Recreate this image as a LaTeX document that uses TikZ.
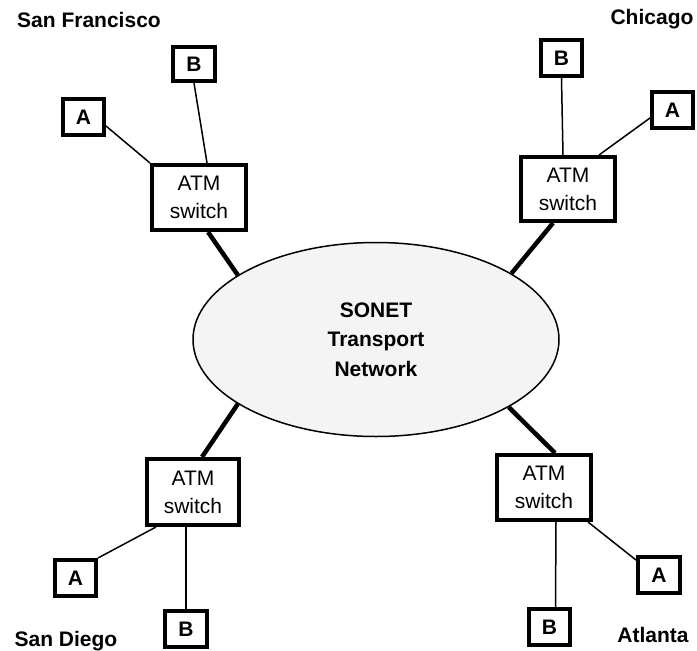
\documentclass[tikz,border=0pt]{standalone}
\usepackage{fontspec}
\setmainfont{Liberation Sans}
\usetikzlibrary{shapes.geometric,backgrounds}
\definecolor{cloudfill}{HTML}{F4F4F4}
\tikzset{
  site/.style={font=\fontsize{21}{26}\selectfont\bfseries, inner sep=0pt},
  endbox/.style={draw, line width=4pt, fill=white, inner sep=0pt,
    minimum width=41pt, minimum height=36pt,
    font=\fontsize{21}{26}\selectfont\bfseries},
  switchbox/.style={draw, line width=4pt, fill=white, inner sep=0pt,
    minimum width=94pt, minimum height=65pt, align=center,
    font=\fontsize{21}{28}\selectfont},
  access/.style={line width=1.5pt},
  trunk/.style={line width=4.5pt},
}
\begin{document}
\begin{tikzpicture}[x=1pt, y=-1pt]
\useasboundingbox (0,0) rectangle (697,651);

% SONET core network
\node[ellipse, draw, line width=1.5pt, fill=cloudfill, inner sep=0pt,
      minimum width=366pt, minimum height=194pt, align=center,
      font=\fontsize{21}{29.5}\selectfont\bfseries]
  (net) at (376,339.5) {SONET\\Transport\\Network};

% San Francisco
\node[site] (sfLabel) at (89,20) {San Francisco};
\node[switchbox] (sfS) at (199,197.5) {ATM\\switch};
\node[endbox] (sfA) at (83.5,117) {A};
\node[endbox, minimum width=42pt, minimum height=34pt] (sfB) at (194,64) {B};

% Chicago
\node[site] (chLabel) at (652,19) {Chicago};
\node[switchbox, minimum height=64pt] (chS) at (568,189) {ATM\\switch};
\node[endbox] (chB) at (561.5,58) {B};
\node[endbox] (chA) at (672.5,110) {A};

% San Diego
\node[site] (sdLabel) at (66,641) {San Diego};
\node[switchbox, minimum width=92pt, minimum height=66pt] (sdS) at (193,492) {ATM\\switch};
\node[endbox] (sdA) at (75.5,578) {A};
\node[endbox, minimum width=42pt] (sdB) at (186,629) {B};

% Atlanta
\node[site] (atLabel) at (653,635) {Atlanta};
\node[switchbox] (atS) at (544,487.5) {ATM\\switch};
\node[endbox, minimum width=42pt] (atA) at (659,575) {A};
\node[endbox] (atB) at (549.5,627) {B};

\begin{scope}[on background layer]
  % trunks from each switch into the SONET network
  \draw[trunk] ([xshift=9pt]sfS.south) -- (net.155);
  \draw[trunk] ([xshift=-15pt]chS.south) -- (net.26);
  \draw[trunk] ([xshift=9pt]sdS.north) -- (net.-155);
  \draw[trunk] ([xshift=11pt]atS.north) -- (net.-27);

  % access links to the end systems
  \draw[access] ([yshift=-9pt]sfA.east) -- (sfS.north west);
  \draw[access] (sfB.south) -- ([xshift=8pt]sfS.north);
  \draw[access] (chB.south) -- ([xshift=-5pt]chS.north);
  \draw[access] ([yshift=-8pt]chA.west) -- ([xshift=31pt]chS.north);
  \draw[access] ([xshift=-37pt]sdS.south) -- (sdA.north east);
  \draw[access] ([xshift=-7pt]sdS.south) -- (sdB.north);
  \draw[access] ([xshift=12pt]atS.south) -- ([xshift=6pt]atB.north);
  \draw[access] ([xshift=-5pt]atS.south east) -- ([yshift=-5pt]atA.north west);
\end{scope}
\end{tikzpicture}
\end{document}
